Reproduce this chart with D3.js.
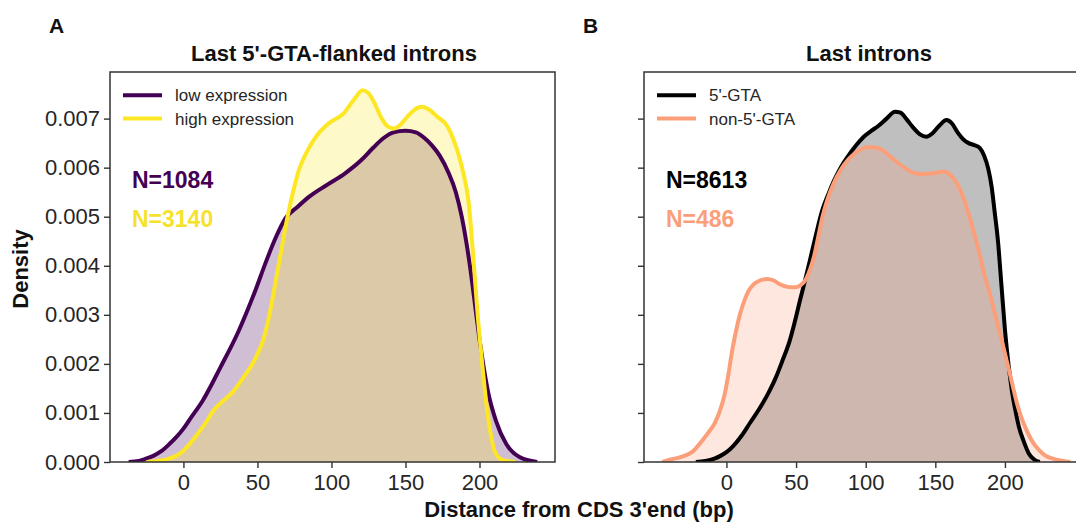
<!DOCTYPE html>
<html>
<head>
<meta charset="utf-8">
<script src="https://cdn.jsdelivr.net/npm/d3@7"></script>
<style>
  html, body { margin: 0; padding: 0; background: #fff; }
  svg { display: block; font-family: "Liberation Sans", Arial, Helvetica, sans-serif; }
</style>
</head>
<body>
<svg id="chart" width="1076" height="531"></svg>
<script>
// ---------------- DATA ----------------
const xTicks = [0, 50, 100, 150, 200];
const yTicks = [0, 0.001, 0.002, 0.003, 0.004, 0.005, 0.006, 0.007];

// Panel A: last 5'-GTA-flanked introns
const lowExprX = [-37,-30,-26,-20,-15,-10,-5,0,5,13,25,37,48,56,62,69,77,85,97,109,120,128,135,142,150,157,163,168,173,179,184,188,191,194,197,200,203,206,211,218,227,239];
const lowExprY = [0,0.00002,0.00006,0.00013,0.00022,0.00035,0.0005,0.00068,0.0009,0.00125,0.00193,0.00265,0.00345,0.0041,0.00455,0.00497,0.0052,0.00541,0.00565,0.00588,0.00615,0.0064,0.0066,0.00672,0.00675,0.00672,0.0066,0.00645,0.00625,0.0059,0.0055,0.005,0.0045,0.0039,0.0032,0.0025,0.0019,0.0014,0.00085,0.00037,0.0001,0];

const highExprX = [-25,-18,-11,-6,-2,4.5,9,15,20,27,34,40,45,50,54,57,60,63,66,70,74,78,83,90,98,108,115,121,125,129,134,138,142,146,151,156,161,166,171,178.6,185.6,189,192.5,196,198.5,201.5,205,208,210,215,224];
const highExprY = [0,0.00002,0.00006,0.00011,0.00018,0.00038,0.00055,0.0008,0.00104,0.00125,0.00145,0.0017,0.00192,0.0022,0.0025,0.00285,0.0033,0.0038,0.0043,0.00495,0.0055,0.00595,0.0063,0.00665,0.0069,0.0071,0.00738,0.00758,0.00752,0.00732,0.007,0.00684,0.0068,0.00686,0.00703,0.00718,0.00724,0.00718,0.00705,0.00683,0.00629,0.0059,0.00534,0.0041,0.0031,0.0021,0.0011,0.0005,0.00024,0.00005,0];

// Panel B: last introns
const gtaX = [-22,-15,-8.6,-4,0,5,11,17,23.3,30,35.6,40,45.4,49,52.8,56,60,64,69,73,77,82,87,93,99,104,109,115,121,125,129,134,139,143.5,148,153,158,162,166,170,174,178,182,185,188,190.5,192.6,195,197.5,200,202.5,205,207.5,210,213.5,217,221,225];
const gtaY = [0,0.00002,0.00007,0.00013,0.0002,0.00033,0.00054,0.0008,0.00107,0.0014,0.00173,0.00205,0.00247,0.00285,0.00329,0.00365,0.00412,0.0046,0.00515,0.00545,0.00572,0.006,0.00622,0.00645,0.00664,0.00675,0.00685,0.007,0.00714,0.00712,0.007,0.00682,0.00668,0.00663,0.0067,0.00686,0.00697,0.0069,0.00672,0.00658,0.0065,0.00646,0.0064,0.00625,0.00598,0.0056,0.0051,0.0045,0.0036,0.0027,0.002,0.00145,0.00105,0.00072,0.00042,0.00018,0.00005,0];

const nonGtaX = [-46,-40,-33,-24,-18.4,-13,-8.6,-5,-1.2,1.5,3.7,6.5,9.8,13,16,19.5,23.3,29.4,34,38,44,49,53,57,60,63,66,69,72.4,77,82,87,92,97,102,107,112,118,124,130,136,141,146,151,156,161,165.6,169,173,177,180.4,185,189,192.6,197.5,200.5,203.7,206,208.6,211.5,214.7,219,224.5,229,234.4,240,247];
const nonGtaY = [0,0.00005,0.0001,0.00022,0.0004,0.0006,0.00078,0.00102,0.00139,0.0018,0.0022,0.00262,0.00302,0.0033,0.00349,0.00362,0.00369,0.00373,0.0037,0.00363,0.00357,0.00356,0.0036,0.00372,0.00392,0.0042,0.0046,0.005,0.00534,0.00568,0.00595,0.00615,0.00629,0.00638,0.00642,0.00641,0.00636,0.00622,0.00608,0.00596,0.00588,0.00587,0.00588,0.0059,0.00592,0.00585,0.00568,0.00547,0.00515,0.00475,0.0044,0.00385,0.00345,0.00305,0.0025,0.00215,0.00178,0.0015,0.0012,0.00093,0.0007,0.00045,0.00024,0.00013,0.00007,0.00003,0];

const zip = (xs, ys) => xs.map((x, i) => [x, ys[i]]);

const panels = [
  {
    letter: "A", title: "Last 5'-GTA-flanked introns",
    domain: [-49.6, 251], range: [110, 555], showYLabels: true,
    series: [
      { name: "low expression", n: "N=1084", data: zip(lowExprX, lowExprY), color: "#440154", textColor: "#440154" },
      { name: "high expression", n: "N=3140", data: zip(highExprX, highExprY), color: "#fde725", textColor: "#f6e22a" }
    ]
  },
  {
    letter: "B", title: "Last introns",
    domain: [-59.2, 261.8], range: [644, 1091], showYLabels: false,
    series: [
      { name: "5'-GTA", n: "N=8613", data: zip(gtaX, gtaY), color: "#000000", textColor: "#000000" },
      { name: "non-5'-GTA", n: "N=486", data: zip(nonGtaX, nonGtaY), color: "#fb9f7b", textColor: "#fb9f7b" }
    ]
  }
];

// ---------------- DRAW ----------------
const svg = d3.select("#chart");
const plotTop = 72, plotBottom = 462;
const yScale = d3.scaleLinear().domain([0, 0.00795]).range([plotBottom, plotTop]);
const axisColor = "#333333";
const textColor = "#262626";

panels.forEach((p, pi) => {
  const x = d3.scaleLinear().domain(p.domain).range(p.range);
  const g = svg.append("g");
  const clipId = "clip" + pi;
  svg.append("clipPath").attr("id", clipId)
    .append("rect").attr("x", p.range[0]).attr("y", plotTop)
    .attr("width", p.range[1] - p.range[0]).attr("height", plotBottom - plotTop);

  const area = d3.area().x(d => x(d[0])).y0(yScale(0)).y1(d => yScale(d[1])).curve(d3.curveMonotoneX);
  const line = d3.line().x(d => x(d[0])).y(d => yScale(d[1])).curve(d3.curveMonotoneX);

  const plot = g.append("g").attr("clip-path", `url(#${clipId})`);
  p.series.forEach(s => {
    plot.append("path").datum(s.data).attr("d", area)
      .attr("fill", s.color).attr("fill-opacity", 0.25).attr("stroke", "none");
  });
  p.series.forEach(s => {
    plot.append("path").datum(s.data).attr("d", line)
      .attr("fill", "none").attr("stroke", s.color).attr("stroke-width", 4)
      .attr("stroke-linejoin", "round").attr("stroke-linecap", "butt");
  });

  // axes
  const xAxis = d3.axisBottom(x).tickValues(xTicks).tickSize(6).tickPadding(6).tickFormat(d3.format("d"));
  const gx = g.append("g").attr("transform", `translate(0,${plotBottom})`).call(xAxis);
  gx.select(".domain").remove();
  gx.selectAll("line").attr("stroke", axisColor).attr("stroke-width", 1.4);
  gx.selectAll("text").attr("fill", textColor).style("font-size", "22px");

  const yAxis = d3.axisLeft(yScale).tickValues(yTicks).tickSize(6).tickPadding(4)
    .tickFormat(p.showYLabels ? d3.format(".3f") : () => "");
  const gy = g.append("g").attr("transform", `translate(${p.range[0]},0)`).call(yAxis);
  gy.select(".domain").remove();
  gy.selectAll("line").attr("stroke", axisColor).attr("stroke-width", 1.4);
  gy.selectAll("text").attr("fill", textColor).style("font-size", "22px");

  // frame
  g.append("rect").attr("x", p.range[0]).attr("y", plotTop)
    .attr("width", p.range[1] - p.range[0]).attr("height", plotBottom - plotTop)
    .attr("fill", "none").attr("stroke", axisColor).attr("stroke-width", 1.5);

  // title & letter
  const cx = (p.range[0] + p.range[1]) / 2;
  g.append("text").attr("x", cx + 1.5).attr("y", 61).attr("text-anchor", "middle")
    .style("font-size", "22px").style("font-weight", "bold").attr("fill", "#111").text(p.title);
  g.append("text").attr("x", p.range[0] - 61).attr("y", 33)
    .style("font-size", "21px").style("font-weight", "bold").attr("fill", "#111").text(p.letter);

  // legend
  const lx0 = p.range[0] + 13;
  p.series.forEach((s, i) => {
    const ly = 95.3 + i * 23.3;
    g.append("line").attr("x1", lx0).attr("x2", lx0 + 39).attr("y1", ly).attr("y2", ly)
      .attr("stroke", s.color).attr("stroke-width", 4);
    g.append("text").attr("x", lx0 + 52).attr("y", ly + 6)
      .style("font-size", "17px").attr("fill", textColor).text(s.name);
    g.append("text").attr("x", p.range[0] + 22).attr("y", 188.4 + i * 38.3)
      .style("font-size", "23px").style("font-weight", "bold").attr("fill", s.textColor).text(s.n);
  });
});

// axis labels
svg.append("text").attr("transform", "translate(28,269) rotate(-90)").attr("text-anchor", "middle")
  .style("font-size", "22px").style("font-weight", "bold").attr("fill", "#111").text("Density");
svg.append("text").attr("x", 579).attr("y", 517).attr("text-anchor", "middle")
  .style("font-size", "22px").style("font-weight", "bold").attr("fill", "#111").text("Distance from CDS 3'end (bp)");
</script>
</body>
</html>
